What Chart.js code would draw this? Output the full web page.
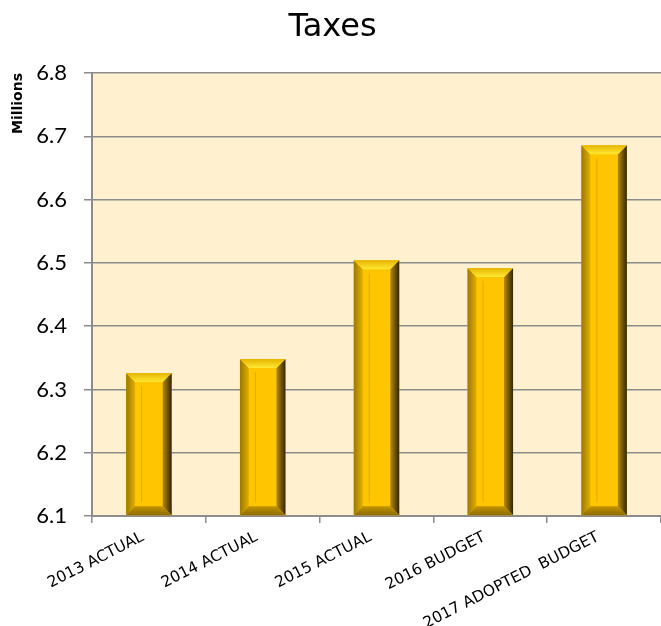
<!DOCTYPE html>
<html>
<head>
<meta charset="utf-8">
<script src="https://cdn.jsdelivr.net/npm/chart.js@4/dist/chart.umd.min.js"></script>
<style>
  body { margin: 0; background: #fff; }
  #wrap { width: 661px; height: 626px; }
</style>
</head>
<body>
<div id="wrap"><canvas id="taxChart" width="661" height="626"></canvas></div>
<script>
const categories = ['2013 ACTUAL', '2014 ACTUAL', '2015 ACTUAL', '2016 BUDGET', '2017 ADOPTED  BUDGET'];
const taxValues = [6.326, 6.348, 6.504, 6.492, 6.686];
const yTicks = [6.1, 6.2, 6.3, 6.4, 6.5, 6.6, 6.7, 6.8];

// cream plot background
const plotBackground = {
    id: 'plotBackground',
    beforeDraw(chart) {
        const { ctx, chartArea } = chart;
        ctx.save();
        ctx.fillStyle = '#FFF0CF';
        ctx.fillRect(chartArea.left, chartArea.top, chartArea.right - chartArea.left, chartArea.bottom - chartArea.top);
        ctx.restore();
    }
};

// gold bevel look on top of each bar
const bevelBars = {
    id: 'bevelBars',
    afterDatasetsDraw(chart) {
        const { ctx } = chart;
        chart.getDatasetMeta(0).data.forEach(bar => {
            const { x, y, base, width } = bar.getProps(['x', 'y', 'base', 'width'], true);
            const l = x - width / 2, r = x + width / 2;
            const b = 9;
            ctx.save();
            // left side
            let g = ctx.createLinearGradient(l, 0, l + b, 0);
            g.addColorStop(0, '#9C7800');
            g.addColorStop(1, '#E2B000');
            ctx.fillStyle = g;
            ctx.beginPath();
            ctx.moveTo(l, y); ctx.lineTo(l + b, y + b); ctx.lineTo(l + b, base - b); ctx.lineTo(l, base);
            ctx.closePath(); ctx.fill();
            // right side
            g = ctx.createLinearGradient(r - b, 0, r, 0);
            g.addColorStop(0, '#B88A00');
            g.addColorStop(1, '#332600');
            ctx.fillStyle = g;
            ctx.beginPath();
            ctx.moveTo(r, y); ctx.lineTo(r - b, y + b); ctx.lineTo(r - b, base - b); ctx.lineTo(r, base);
            ctx.closePath(); ctx.fill();
            // top
            g = ctx.createLinearGradient(0, y, 0, y + b);
            g.addColorStop(0, '#E6B400');
            g.addColorStop(1, '#FFE833');
            ctx.fillStyle = g;
            ctx.beginPath();
            ctx.moveTo(l, y); ctx.lineTo(r, y); ctx.lineTo(r - b, y + b); ctx.lineTo(l + b, y + b);
            ctx.closePath(); ctx.fill();
            // bottom
            g = ctx.createLinearGradient(0, base - b, 0, base);
            g.addColorStop(0, '#C49400');
            g.addColorStop(1, '#8C6C00');
            ctx.fillStyle = g;
            ctx.beginPath();
            ctx.moveTo(l, base); ctx.lineTo(r, base); ctx.lineTo(r - b, base - b); ctx.lineTo(l + b, base - b);
            ctx.closePath(); ctx.fill();
            // faint inner highlight line
            ctx.strokeStyle = 'rgba(200,150,0,0.5)';
            ctx.lineWidth = 1;
            ctx.beginPath();
            ctx.moveTo(l + b + 6.5, y + b + 4); ctx.lineTo(l + b + 6.5, base - b - 4);
            ctx.stroke();
            ctx.restore();
        });
    }
};

const ctx = document.getElementById('taxChart').getContext('2d');
const taxChart = new Chart(ctx, {
    type: 'bar',
    data: {
        labels: categories,
        datasets: [{
            label: 'Taxes',
            data: taxValues,
            backgroundColor: '#FFC600',
            borderWidth: 0,
            categoryPercentage: 1,
            barPercentage: 0.4,
            base: 6.1,
        }],
    },
    options: {
        responsive: false,
        animation: false,
        layout: { padding: { left: 4, right: 0, top: 0, bottom: 0 } },
        plugins: {
            legend: { display: false },
            tooltip: { enabled: false },
            title: {
                display: true,
                text: 'Taxes',
                color: '#000',
                font: { family: 'DejaVu Sans', size: 32, weight: 'normal', lineHeight: 1.2 },
                padding: { top: 8, bottom: 26.6 },
            },
        },
        scales: {
            x: {
                afterFit(axis) { axis.height = 110; },
                grid: {
                    offset: true,
                    drawOnChartArea: false,
                    color: '#8C8C8C',
                    lineWidth: 1.5,
                    tickLength: 7,
                },
                border: { color: '#8C8C8C', width: 2 },
                ticks: {
                    color: '#000',
                    font: { family: 'DejaVu Sans', size: 15.5 },
                    maxRotation: 27,
                    minRotation: 27,
                    labelOffset: -6,
                    padding: 5,
                },
            },
            y: {
                min: 6.1,
                max: 6.8,
                afterFit(axis) { axis.width = 88; },
                afterBuildTicks(axis) {
                    axis.ticks = yTicks.map(v => ({ value: v }));
                },
                grid: {
                    color: '#8C8C8C',
                    lineWidth: 1.5,
                    tickLength: 8,
                },
                border: { color: '#8C8C8C', width: 2 },
                ticks: {
                    color: '#000',
                    font: { family: 'Lato', size: 22 },
                    padding: 17,
                    callback: v => Number(v).toFixed(1),
                },
                title: {
                    display: true,
                    text: 'Millions',
                    align: 'end',
                    color: '#000',
                    font: { family: 'DejaVu Sans', size: 14, weight: 'bold' },
                    padding: { top: 6, bottom: 6 },
                },
            },
        },
    },
    plugins: [plotBackground, bevelBars],
});
</script>
</body>
</html>
